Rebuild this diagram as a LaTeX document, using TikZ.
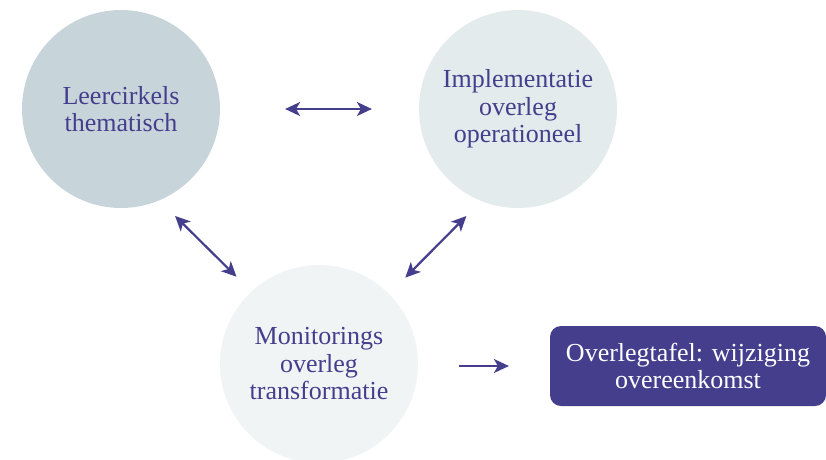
\documentclass[tikz,border=0pt]{standalone}
\usepackage{fontspec}
\setmainfont{Liberation Serif}
\usepackage{tikz}
\usetikzlibrary{arrows.meta}
\definecolor{paars}{HTML}{453E8D}
\definecolor{kringA}{HTML}{C7D5DB}
\definecolor{kringB}{HTML}{E3EBED}
\definecolor{kringC}{HTML}{F0F4F5}

\begin{document}
\begin{tikzpicture}[x=1pt,y=-1pt,<->,>={Stealth[length=15pt,width=14pt,inset=4pt]},
                    line width=2.2pt,node distance=397pt]
  \tikzstyle{every node}=[text=paars,font=\fontsize{26}{27.5}\selectfont,align=center]
  \tikzstyle{kring}=[circle,minimum size=198pt,inner sep=0pt]
  \useasboundingbox (0,0) rectangle (826,459);

  \node[kring,fill=kringA] (A) at (121,109) {Leercirkels\\thematisch};
  \node[kring,fill=kringB] (B) [right of=A] {Implementatie\\overleg\\operationeel};
  \node[kring,fill=kringC] (C) at (319,364) {Monitorings\\overleg\\transformatie};
  \node[fill=paars,text=white,rounded corners=11pt,minimum width=276pt,
        minimum height=80pt,inner sep=0pt] (D) at (688,366) {Overlegtafel: wijziging\\overeenkomst};

  \draw[draw=paars,shorten <=64pt,shorten >=46pt] (A) -- (B);
  \draw[draw=paars,shorten <=21pt,shorten >=20pt] (A.-67) -- (C.133);
  \draw[draw=paars,shorten <=20pt,shorten >=22pt] (B.-112) -- (C.45);
  \draw[draw=paars,->,shorten <=40pt,shorten >=40pt] (C.east |- D) -- (D);
\end{tikzpicture}
\end{document}
